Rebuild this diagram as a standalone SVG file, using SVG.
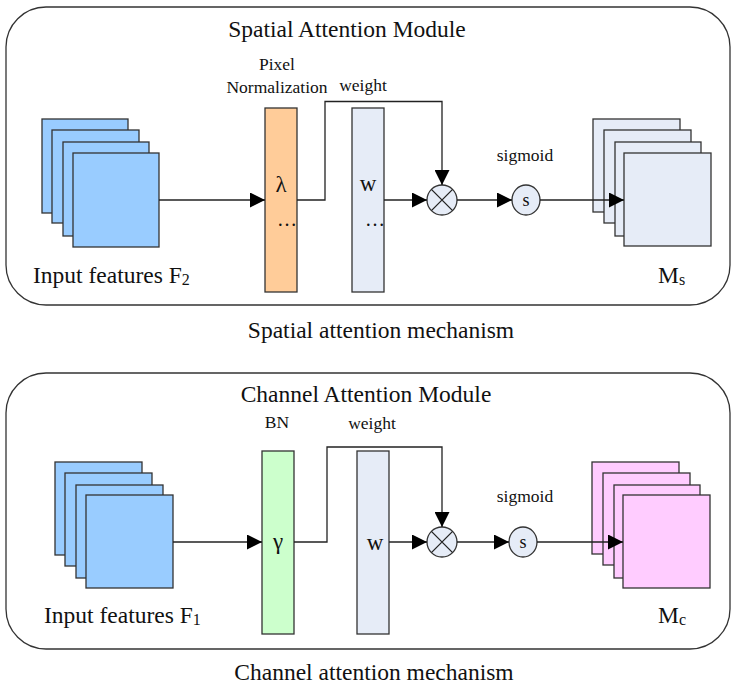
<svg xmlns="http://www.w3.org/2000/svg" width="732" height="691" viewBox="0 0 732 691">
<defs>
<style>
.panel{fill:#fff;stroke:#333;stroke-width:1.3}
.sq{stroke:#333;stroke-width:1.3}
.blue{fill:#99CCFF}
.light{fill:#E6ECF7}
.pink{fill:#FFCCFF}
.bar{stroke:#333;stroke-width:1.3}
.ln{fill:none;stroke:#222;stroke-width:1.3}
.arr{fill:none;stroke:#222;stroke-width:1.3;marker-end:url(#ah)}
.t{font-family:"Liberation Serif","Times New Roman",serif;fill:#111}
.big{font-size:23.5px}
.sm{font-size:17.5px}
.sym{font-size:23px}
</style>
<marker id="ah" markerUnits="userSpaceOnUse" markerWidth="15" markerHeight="15" refX="15" refY="7.5" orient="auto">
<path d="M0,0 L15,7.5 L0,15 z" fill="#000"/>
</marker>
</defs>

<g id="spatial-panel">
<rect class="panel" x="6" y="7" width="724" height="298" rx="40" ry="40"/>
<text class="t big" x="347" y="37" text-anchor="middle">Spatial Attention Module</text>
</g>

<g id="input-f2">
<rect class="sq blue" x="42" y="119" width="86" height="94"/>
<rect class="sq blue" x="52" y="130" width="87" height="93"/>
<rect class="sq blue" x="63" y="142" width="86" height="94"/>
<rect class="sq blue" x="73" y="153" width="86" height="94"/>
<text class="t big" x="33" y="283">Input features F<tspan font-size="16" dy="2">2</tspan></text>
</g>

<g id="pixel-norm">
<rect class="bar" x="265" y="108" width="32" height="184" fill="#FFCC99"/>
<text class="t sym" x="281" y="192" text-anchor="middle">λ</text>
<text class="t" font-size="20" x="287" y="226" text-anchor="middle">…</text>
<text class="t sm" x="277" y="70" text-anchor="middle">Pixel</text>
<text class="t sm" x="277" y="93" text-anchor="middle">Normalization</text>
</g>

<g id="weight-s">
<rect class="bar light" x="352" y="108" width="32" height="184"/>
<text class="t sym" x="368" y="191" text-anchor="middle">w</text>
<text class="t" font-size="20" x="375" y="226" text-anchor="middle">…</text>
<text class="t sm" x="363" y="91" text-anchor="middle">weight</text>
</g>

<g id="mult-s">
<circle cx="442" cy="200" r="15" fill="#E6ECF7" stroke="#333" stroke-width="1.3"/>
<path class="ln" d="M431.4,189.4 L452.6,210.6 M452.6,189.4 L431.4,210.6"/>
</g>

<g id="sigmoid-s">
<ellipse cx="526" cy="200" rx="14" ry="15" fill="#E6ECF7" stroke="#333" stroke-width="1.3"/>
<text class="t" font-size="18" x="526" y="206" text-anchor="middle">s</text>
<text class="t sm" x="525" y="161" text-anchor="middle">sigmoid</text>
</g>

<g id="ms">
<rect class="sq light" x="593" y="119" width="87" height="93"/>
<rect class="sq light" x="604" y="130" width="87" height="93"/>
<rect class="sq light" x="615" y="142" width="86" height="94"/>
<rect class="sq light" x="624" y="153" width="87" height="93"/>
<text class="t big" x="658" y="283">M<tspan font-size="16" dy="2">s</tspan></text>
</g>

<text id="spatial-caption" class="t big" x="381" y="338" text-anchor="middle">Spatial attention mechanism</text>

<g id="channel-panel">
<rect class="panel" x="6" y="373" width="724" height="276" rx="40" ry="40"/>
<text class="t big" x="366" y="402" text-anchor="middle">Channel Attention Module</text>
</g>

<g id="input-f1">
<rect class="sq blue" x="55" y="462" width="87" height="93"/>
<rect class="sq blue" x="65" y="473" width="87" height="93"/>
<rect class="sq blue" x="76" y="485" width="87" height="93"/>
<rect class="sq blue" x="86" y="495" width="87" height="93"/>
<text class="t big" x="44" y="623">Input features F<tspan font-size="16" dy="2">1</tspan></text>
</g>

<g id="bn">
<rect class="bar" x="262" y="451" width="32" height="183" fill="#CCFFCC"/>
<text class="t sym" x="278" y="549" text-anchor="middle">γ</text>
<text class="t sm" x="277" y="428" text-anchor="middle">BN</text>
</g>

<g id="weight-c">
<rect class="bar light" x="357" y="451" width="32" height="183"/>
<text class="t sym" x="375" y="550" text-anchor="middle">w</text>
<text class="t sm" x="372" y="429" text-anchor="middle">weight</text>
</g>

<g id="mult-c">
<circle cx="442" cy="542" r="15" fill="#E6ECF7" stroke="#333" stroke-width="1.3"/>
<path class="ln" d="M431.4,531.4 L452.6,552.6 M452.6,531.4 L431.4,552.6"/>
</g>

<g id="sigmoid-c">
<ellipse cx="523" cy="542" rx="14" ry="15" fill="#E6ECF7" stroke="#333" stroke-width="1.3"/>
<text class="t" font-size="18" x="523" y="548" text-anchor="middle">s</text>
<text class="t sm" x="525" y="502" text-anchor="middle">sigmoid</text>
</g>

<g id="mc">
<rect class="sq pink" x="592" y="462" width="87" height="92"/>
<rect class="sq pink" x="603" y="473" width="87" height="92"/>
<rect class="sq pink" x="614" y="485" width="86" height="93"/>
<rect class="sq pink" x="623" y="495" width="87" height="93"/>
<text class="t big" x="658" y="623">M<tspan font-size="16" dy="2">c</tspan></text>
</g>

<text id="channel-caption" class="t big" x="374" y="680" text-anchor="middle">Channel attention mechanism</text>

<g id="connectors">
<path class="arr" d="M159,200 L265,200"/>
<path class="arr" d="M297,200 L325,200 L325,101.5 L442,101.5 L442,185"/>
<path class="arr" d="M384,200 L427,200"/>
<path class="arr" d="M457,200 L512,200"/>
<path class="arr" d="M540,200 L624,200"/>
<path class="arr" d="M173,542 L262,542"/>
<path class="arr" d="M294,542 L327,542 L327,447 L442,447 L442,527"/>
<path class="arr" d="M389,542 L427,542"/>
<path class="arr" d="M457,542 L509,542"/>
<path class="arr" d="M537,542 L623,542"/>
</g>
</svg>
